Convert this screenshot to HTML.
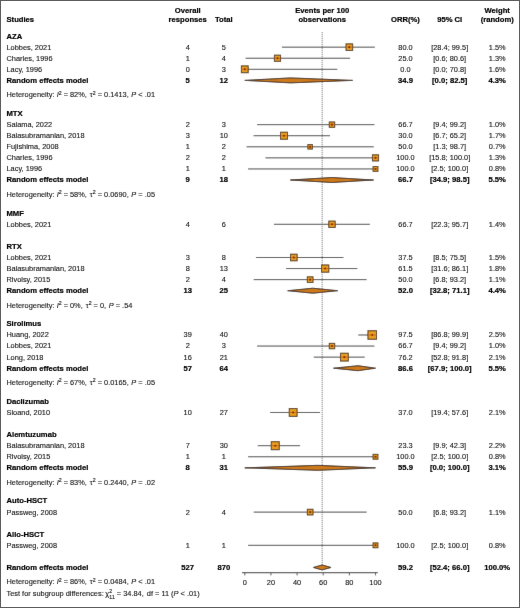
<!DOCTYPE html>
<html><head><meta charset="utf-8"><style>
html,body{margin:0;padding:0;background:#fff;overflow:hidden;width:520px;height:608px;}
svg{display:block;}
</style></head><body>
<svg width="520" height="608" viewBox="0 0 520 608" font-family="Liberation Sans, sans-serif" font-size="7.4">
<defs><filter id="bl" x="0" y="0" width="520" height="608" filterUnits="userSpaceOnUse"><feConvolveMatrix order="3" kernelMatrix="0.00524 0.06192 0.00524 0.06192 0.73137 0.06192 0.00524 0.06192 0.00524" divisor="1" edgeMode="duplicate" preserveAlpha="false"/></filter><filter id="bt" x="0" y="0" width="520" height="608" filterUnits="userSpaceOnUse"><feConvolveMatrix order="3" kernelMatrix="0.00163 0.03713 0.00163 0.03713 0.84497 0.03713 0.00163 0.03713 0.00163" divisor="1" edgeMode="duplicate" preserveAlpha="false"/></filter></defs>
<rect x="0" y="0" width="520" height="608" fill="#fff"/>
<g filter="url(#bl)">
<rect x="0" y="0" width="520" height="608" fill="#fff"/>
<line x1="322.17" y1="32.2" x2="322.17" y2="565" stroke="#3a3a3a" stroke-width="0.8" stroke-dasharray="1 1"/>
<line x1="281.92" y1="47.17" x2="374.85" y2="47.17" stroke="#454545" stroke-width="1.0"/>
<rect x="346.05" y="43.86" width="6.61" height="6.61" fill="#E99D22" stroke="#4a3000" stroke-width="1.0"/>
<line x1="346.05" y1="47.17" x2="352.67" y2="47.17" stroke="#cf6d12" stroke-width="1.0"/>
<circle cx="349.36" cy="47.17" r="1.05" fill="#7a2200"/>
<line x1="245.58" y1="58.24" x2="350.14" y2="58.24" stroke="#454545" stroke-width="1.0"/>
<rect x="274.40" y="55.16" width="6.16" height="6.16" fill="#E99D22" stroke="#4a3000" stroke-width="1.0"/>
<line x1="274.40" y1="58.24" x2="280.55" y2="58.24" stroke="#cf6d12" stroke-width="1.0"/>
<circle cx="277.48" cy="58.24" r="1.05" fill="#7a2200"/>
<line x1="244.80" y1="69.31" x2="337.34" y2="69.31" stroke="#454545" stroke-width="1.0"/>
<rect x="241.38" y="65.89" width="6.83" height="6.83" fill="#E99D22" stroke="#4a3000" stroke-width="1.0"/>
<line x1="241.38" y1="69.31" x2="248.22" y2="69.31" stroke="#cf6d12" stroke-width="1.0"/>
<circle cx="244.80" cy="69.31" r="1.05" fill="#7a2200"/>
<polygon points="244.80,80.38 290.41,77.88 352.63,80.38 290.41,82.88" fill="#CD7A1C" stroke="#2e1800" stroke-width="0.95"/>
<line x1="257.09" y1="124.66" x2="374.45" y2="124.66" stroke="#454545" stroke-width="1.0"/>
<rect x="329.28" y="121.96" width="5.40" height="5.40" fill="#E99D22" stroke="#4a3000" stroke-width="1.0"/>
<line x1="329.28" y1="124.66" x2="334.68" y2="124.66" stroke="#cf6d12" stroke-width="1.0"/>
<circle cx="331.98" cy="124.66" r="1.05" fill="#7a2200"/>
<line x1="253.56" y1="135.73" x2="330.02" y2="135.73" stroke="#454545" stroke-width="1.0"/>
<rect x="280.49" y="132.21" width="7.04" height="7.04" fill="#E99D22" stroke="#4a3000" stroke-width="1.0"/>
<line x1="280.49" y1="135.73" x2="287.53" y2="135.73" stroke="#cf6d12" stroke-width="1.0"/>
<circle cx="284.01" cy="135.73" r="1.05" fill="#7a2200"/>
<line x1="246.50" y1="146.80" x2="373.80" y2="146.80" stroke="#454545" stroke-width="1.0"/>
<rect x="307.89" y="144.54" width="4.52" height="4.52" fill="#E99D22" stroke="#4a3000" stroke-width="1.0"/>
<line x1="307.89" y1="146.80" x2="312.41" y2="146.80" stroke="#cf6d12" stroke-width="1.0"/>
<circle cx="310.15" cy="146.80" r="1.05" fill="#7a2200"/>
<line x1="265.45" y1="157.87" x2="375.50" y2="157.87" stroke="#454545" stroke-width="1.0"/>
<rect x="372.42" y="154.79" width="6.16" height="6.16" fill="#E99D22" stroke="#4a3000" stroke-width="1.0"/>
<line x1="372.42" y1="157.87" x2="378.58" y2="157.87" stroke="#cf6d12" stroke-width="1.0"/>
<circle cx="375.50" cy="157.87" r="1.05" fill="#7a2200"/>
<line x1="248.07" y1="168.94" x2="375.50" y2="168.94" stroke="#454545" stroke-width="1.0"/>
<rect x="373.09" y="166.53" width="4.83" height="4.83" fill="#E99D22" stroke="#4a3000" stroke-width="1.0"/>
<line x1="373.09" y1="168.94" x2="377.91" y2="168.94" stroke="#cf6d12" stroke-width="1.0"/>
<circle cx="375.50" cy="168.94" r="1.05" fill="#7a2200"/>
<polygon points="290.41,180.01 331.98,177.51 373.54,180.01 331.98,182.51" fill="#CD7A1C" stroke="#2e1800" stroke-width="0.95"/>
<line x1="273.95" y1="224.29" x2="369.88" y2="224.29" stroke="#454545" stroke-width="1.0"/>
<rect x="328.78" y="221.10" width="6.39" height="6.39" fill="#E99D22" stroke="#4a3000" stroke-width="1.0"/>
<line x1="328.78" y1="224.29" x2="335.17" y2="224.29" stroke="#cf6d12" stroke-width="1.0"/>
<circle cx="331.98" cy="224.29" r="1.05" fill="#7a2200"/>
<line x1="255.91" y1="257.50" x2="343.48" y2="257.50" stroke="#454545" stroke-width="1.0"/>
<rect x="290.51" y="254.19" width="6.61" height="6.61" fill="#E99D22" stroke="#4a3000" stroke-width="1.0"/>
<line x1="290.51" y1="257.50" x2="297.12" y2="257.50" stroke="#cf6d12" stroke-width="1.0"/>
<circle cx="293.81" cy="257.50" r="1.05" fill="#7a2200"/>
<line x1="286.10" y1="268.57" x2="357.33" y2="268.57" stroke="#454545" stroke-width="1.0"/>
<rect x="321.56" y="264.95" width="7.24" height="7.24" fill="#E99D22" stroke="#4a3000" stroke-width="1.0"/>
<line x1="321.56" y1="268.57" x2="328.80" y2="268.57" stroke="#cf6d12" stroke-width="1.0"/>
<circle cx="325.18" cy="268.57" r="1.05" fill="#7a2200"/>
<line x1="253.69" y1="279.64" x2="366.61" y2="279.64" stroke="#454545" stroke-width="1.0"/>
<rect x="307.32" y="276.81" width="5.66" height="5.66" fill="#E99D22" stroke="#4a3000" stroke-width="1.0"/>
<line x1="307.32" y1="279.64" x2="312.98" y2="279.64" stroke="#cf6d12" stroke-width="1.0"/>
<circle cx="310.15" cy="279.64" r="1.05" fill="#7a2200"/>
<polygon points="287.67,290.71 312.76,288.21 337.73,290.71 312.76,293.21" fill="#CD7A1C" stroke="#2e1800" stroke-width="0.95"/>
<line x1="358.25" y1="334.99" x2="375.37" y2="334.99" stroke="#454545" stroke-width="1.0"/>
<rect x="367.96" y="330.72" width="8.54" height="8.54" fill="#E99D22" stroke="#4a3000" stroke-width="1.0"/>
<line x1="367.96" y1="334.99" x2="376.50" y2="334.99" stroke="#cf6d12" stroke-width="1.0"/>
<circle cx="372.23" cy="334.99" r="1.05" fill="#7a2200"/>
<line x1="257.09" y1="346.06" x2="374.45" y2="346.06" stroke="#454545" stroke-width="1.0"/>
<rect x="329.28" y="343.36" width="5.40" height="5.40" fill="#E99D22" stroke="#4a3000" stroke-width="1.0"/>
<line x1="329.28" y1="346.06" x2="334.68" y2="346.06" stroke="#cf6d12" stroke-width="1.0"/>
<circle cx="331.98" cy="346.06" r="1.05" fill="#7a2200"/>
<line x1="313.81" y1="357.13" x2="364.78" y2="357.13" stroke="#454545" stroke-width="1.0"/>
<rect x="340.48" y="353.22" width="7.83" height="7.83" fill="#E99D22" stroke="#4a3000" stroke-width="1.0"/>
<line x1="340.48" y1="357.13" x2="348.31" y2="357.13" stroke="#cf6d12" stroke-width="1.0"/>
<circle cx="344.39" cy="357.13" r="1.05" fill="#7a2200"/>
<polygon points="333.55,368.20 357.99,365.70 375.50,368.20 357.99,370.70" fill="#CD7A1C" stroke="#2e1800" stroke-width="0.95"/>
<line x1="270.16" y1="412.48" x2="320.08" y2="412.48" stroke="#454545" stroke-width="1.0"/>
<rect x="289.25" y="408.57" width="7.83" height="7.83" fill="#E99D22" stroke="#4a3000" stroke-width="1.0"/>
<line x1="289.25" y1="412.48" x2="297.07" y2="412.48" stroke="#cf6d12" stroke-width="1.0"/>
<circle cx="293.16" cy="412.48" r="1.05" fill="#7a2200"/>
<line x1="257.74" y1="445.69" x2="300.09" y2="445.69" stroke="#454545" stroke-width="1.0"/>
<rect x="271.25" y="441.69" width="8.01" height="8.01" fill="#E99D22" stroke="#4a3000" stroke-width="1.0"/>
<line x1="271.25" y1="445.69" x2="279.26" y2="445.69" stroke="#cf6d12" stroke-width="1.0"/>
<circle cx="275.25" cy="445.69" r="1.05" fill="#7a2200"/>
<line x1="248.07" y1="456.76" x2="375.50" y2="456.76" stroke="#454545" stroke-width="1.0"/>
<rect x="373.09" y="454.35" width="4.83" height="4.83" fill="#E99D22" stroke="#4a3000" stroke-width="1.0"/>
<line x1="373.09" y1="456.76" x2="377.91" y2="456.76" stroke="#cf6d12" stroke-width="1.0"/>
<circle cx="375.50" cy="456.76" r="1.05" fill="#7a2200"/>
<polygon points="244.80,467.83 317.86,465.33 375.50,467.83 317.86,470.33" fill="#CD7A1C" stroke="#2e1800" stroke-width="0.95"/>
<line x1="253.69" y1="512.11" x2="366.61" y2="512.11" stroke="#454545" stroke-width="1.0"/>
<rect x="307.32" y="509.28" width="5.66" height="5.66" fill="#E99D22" stroke="#4a3000" stroke-width="1.0"/>
<line x1="307.32" y1="512.11" x2="312.98" y2="512.11" stroke="#cf6d12" stroke-width="1.0"/>
<circle cx="310.15" cy="512.11" r="1.05" fill="#7a2200"/>
<line x1="248.07" y1="545.32" x2="375.50" y2="545.32" stroke="#454545" stroke-width="1.0"/>
<rect x="373.09" y="542.91" width="4.83" height="4.83" fill="#E99D22" stroke="#4a3000" stroke-width="1.0"/>
<line x1="373.09" y1="545.32" x2="377.91" y2="545.32" stroke="#cf6d12" stroke-width="1.0"/>
<circle cx="375.50" cy="545.32" r="1.05" fill="#7a2200"/>
<polygon points="313.29,567.46 322.17,564.96 331.06,567.46 322.17,569.96" fill="#CD7A1C" stroke="#2e1800" stroke-width="0.95"/>
<line x1="242" y1="572.6" x2="377.8" y2="572.6" stroke="#555" stroke-width="1.3"/>
<line x1="244.80" y1="572.6" x2="244.80" y2="575.4" stroke="#555" stroke-width="1"/>
<line x1="270.94" y1="572.6" x2="270.94" y2="575.4" stroke="#555" stroke-width="1"/>
<line x1="297.08" y1="572.6" x2="297.08" y2="575.4" stroke="#555" stroke-width="1"/>
<line x1="323.22" y1="572.6" x2="323.22" y2="575.4" stroke="#555" stroke-width="1"/>
<line x1="349.36" y1="572.6" x2="349.36" y2="575.4" stroke="#555" stroke-width="1"/>
<line x1="375.50" y1="572.6" x2="375.50" y2="575.4" stroke="#555" stroke-width="1"/>
</g>
<g filter="url(#bt)">
<text transform="translate(0,21.80) scale(1,1.05)" x="6.50" y="0" text-anchor="start" font-weight="bold" font-size="7.65" fill="#000" stroke="#000" stroke-width="0.2">Studies</text>
<text transform="translate(0,13.05) scale(1,1.05)" x="187.70" y="0" text-anchor="middle" font-weight="bold" font-size="7.65" fill="#000" stroke="#000" stroke-width="0.2">Overall</text>
<text transform="translate(0,21.80) scale(1,1.05)" x="187.70" y="0" text-anchor="middle" font-weight="bold" font-size="7.65" fill="#000" stroke="#000" stroke-width="0.2">responses</text>
<text transform="translate(0,21.80) scale(1,1.05)" x="223.80" y="0" text-anchor="middle" font-weight="bold" font-size="7.65" fill="#000" stroke="#000" stroke-width="0.2">Total</text>
<text transform="translate(0,13.05) scale(1,1.05)" x="322.20" y="0" text-anchor="middle" font-weight="bold" font-size="7.65" fill="#000" stroke="#000" stroke-width="0.2">Events per 100</text>
<text transform="translate(0,21.80) scale(1,1.05)" x="322.20" y="0" text-anchor="middle" font-weight="bold" font-size="7.65" fill="#000" stroke="#000" stroke-width="0.2">observations</text>
<text transform="translate(0,21.80) scale(1,1.05)" x="405.50" y="0" text-anchor="middle" font-weight="bold" font-size="7.65" fill="#000" stroke="#000" stroke-width="0.2">ORR(%)</text>
<text transform="translate(0,21.80) scale(1,1.05)" x="449.70" y="0" text-anchor="middle" font-weight="bold" font-size="7.65" fill="#000" stroke="#000" stroke-width="0.2">95% CI</text>
<text transform="translate(0,13.05) scale(1,1.05)" x="497.20" y="0" text-anchor="middle" font-weight="bold" font-size="7.65" fill="#000" stroke="#000" stroke-width="0.2">Weight</text>
<text transform="translate(0,21.80) scale(1,1.05)" x="497.20" y="0" text-anchor="middle" font-weight="bold" font-size="7.65" fill="#000" stroke="#000" stroke-width="0.2">(random)</text>
<text transform="translate(0,38.50) scale(1,1.05)" x="6.50" y="0" text-anchor="start" font-weight="bold" font-size="7.65" fill="#000" stroke="#000" stroke-width="0.2">AZA</text>
<text transform="translate(0,49.57) scale(1,1.05)" x="6.50" y="0" text-anchor="start" fill="#111" stroke="#111" stroke-width="0.1">Lobbes, 2021</text>
<text transform="translate(0,49.57) scale(1,1.05)" x="187.70" y="0" text-anchor="middle" fill="#111" stroke="#111" stroke-width="0.1">4</text>
<text transform="translate(0,49.57) scale(1,1.05)" x="223.80" y="0" text-anchor="middle" fill="#111" stroke="#111" stroke-width="0.1">5</text>
<text transform="translate(0,49.57) scale(1,1.05)" x="405.50" y="0" text-anchor="middle" fill="#111" stroke="#111" stroke-width="0.1">80.0</text>
<text transform="translate(0,49.57) scale(1,1.05)" x="449.70" y="0" text-anchor="middle" fill="#111" stroke="#111" stroke-width="0.1">[28.4; 99.5]</text>
<text transform="translate(0,49.57) scale(1,1.05)" x="497.20" y="0" text-anchor="middle" fill="#111" stroke="#111" stroke-width="0.1">1.5%</text>
<text transform="translate(0,60.64) scale(1,1.05)" x="6.50" y="0" text-anchor="start" fill="#111" stroke="#111" stroke-width="0.1">Charles, 1996</text>
<text transform="translate(0,60.64) scale(1,1.05)" x="187.70" y="0" text-anchor="middle" fill="#111" stroke="#111" stroke-width="0.1">1</text>
<text transform="translate(0,60.64) scale(1,1.05)" x="223.80" y="0" text-anchor="middle" fill="#111" stroke="#111" stroke-width="0.1">4</text>
<text transform="translate(0,60.64) scale(1,1.05)" x="405.50" y="0" text-anchor="middle" fill="#111" stroke="#111" stroke-width="0.1">25.0</text>
<text transform="translate(0,60.64) scale(1,1.05)" x="449.70" y="0" text-anchor="middle" fill="#111" stroke="#111" stroke-width="0.1">[0.6; 80.6]</text>
<text transform="translate(0,60.64) scale(1,1.05)" x="497.20" y="0" text-anchor="middle" fill="#111" stroke="#111" stroke-width="0.1">1.3%</text>
<text transform="translate(0,71.71) scale(1,1.05)" x="6.50" y="0" text-anchor="start" fill="#111" stroke="#111" stroke-width="0.1">Lacy, 1996</text>
<text transform="translate(0,71.71) scale(1,1.05)" x="187.70" y="0" text-anchor="middle" fill="#111" stroke="#111" stroke-width="0.1">0</text>
<text transform="translate(0,71.71) scale(1,1.05)" x="223.80" y="0" text-anchor="middle" fill="#111" stroke="#111" stroke-width="0.1">3</text>
<text transform="translate(0,71.71) scale(1,1.05)" x="405.50" y="0" text-anchor="middle" fill="#111" stroke="#111" stroke-width="0.1">0.0</text>
<text transform="translate(0,71.71) scale(1,1.05)" x="449.70" y="0" text-anchor="middle" fill="#111" stroke="#111" stroke-width="0.1">[0.0; 70.8]</text>
<text transform="translate(0,71.71) scale(1,1.05)" x="497.20" y="0" text-anchor="middle" fill="#111" stroke="#111" stroke-width="0.1">1.6%</text>
<text transform="translate(0,82.78) scale(1,1.05)" x="6.50" y="0" text-anchor="start" font-weight="bold" font-size="7.65" fill="#000" stroke="#000" stroke-width="0.2">Random effects model</text>
<text transform="translate(0,82.78) scale(1,1.05)" x="187.70" y="0" text-anchor="middle" font-weight="bold" font-size="7.65" fill="#000" stroke="#000" stroke-width="0.2">5</text>
<text transform="translate(0,82.78) scale(1,1.05)" x="223.80" y="0" text-anchor="middle" font-weight="bold" font-size="7.65" fill="#000" stroke="#000" stroke-width="0.2">12</text>
<text transform="translate(0,82.78) scale(1,1.05)" x="405.50" y="0" text-anchor="middle" font-weight="bold" font-size="7.65" fill="#000" stroke="#000" stroke-width="0.2">34.9</text>
<text transform="translate(0,82.78) scale(1,1.05)" x="449.70" y="0" text-anchor="middle" font-weight="bold" font-size="7.65" fill="#000" stroke="#000" stroke-width="0.2">[0.0; 82.5]</text>
<text transform="translate(0,82.78) scale(1,1.05)" x="497.20" y="0" text-anchor="middle" font-weight="bold" font-size="7.65" fill="#000" stroke="#000" stroke-width="0.2">4.3%</text>
<text transform="translate(0,97.38) scale(1,1.05)" x="6.50" y="0" text-anchor="start" fill="#111" stroke="#111" stroke-width="0.1">Heterogeneity: <tspan font-style="italic">I</tspan><tspan dy="-2.6" font-size="5.2">2</tspan><tspan dy="2.6"> = 82%, </tspan><tspan dx="0.9">τ</tspan><tspan dy="-2.6" font-size="5.2">2</tspan><tspan dy="2.6"> = 0.1413, </tspan><tspan font-style="italic" dx="0.6">P</tspan> &lt; .01</text>
<text transform="translate(0,115.99) scale(1,1.05)" x="6.50" y="0" text-anchor="start" font-weight="bold" font-size="7.65" fill="#000" stroke="#000" stroke-width="0.2">MTX</text>
<text transform="translate(0,127.06) scale(1,1.05)" x="6.50" y="0" text-anchor="start" fill="#111" stroke="#111" stroke-width="0.1">Salama, 2022</text>
<text transform="translate(0,127.06) scale(1,1.05)" x="187.70" y="0" text-anchor="middle" fill="#111" stroke="#111" stroke-width="0.1">2</text>
<text transform="translate(0,127.06) scale(1,1.05)" x="223.80" y="0" text-anchor="middle" fill="#111" stroke="#111" stroke-width="0.1">3</text>
<text transform="translate(0,127.06) scale(1,1.05)" x="405.50" y="0" text-anchor="middle" fill="#111" stroke="#111" stroke-width="0.1">66.7</text>
<text transform="translate(0,127.06) scale(1,1.05)" x="449.70" y="0" text-anchor="middle" fill="#111" stroke="#111" stroke-width="0.1">[9.4; 99.2]</text>
<text transform="translate(0,127.06) scale(1,1.05)" x="497.20" y="0" text-anchor="middle" fill="#111" stroke="#111" stroke-width="0.1">1.0%</text>
<text transform="translate(0,138.13) scale(1,1.05)" x="6.50" y="0" text-anchor="start" fill="#111" stroke="#111" stroke-width="0.1">Balasubramanian, 2018</text>
<text transform="translate(0,138.13) scale(1,1.05)" x="187.70" y="0" text-anchor="middle" fill="#111" stroke="#111" stroke-width="0.1">3</text>
<text transform="translate(0,138.13) scale(1,1.05)" x="223.80" y="0" text-anchor="middle" fill="#111" stroke="#111" stroke-width="0.1">10</text>
<text transform="translate(0,138.13) scale(1,1.05)" x="405.50" y="0" text-anchor="middle" fill="#111" stroke="#111" stroke-width="0.1">30.0</text>
<text transform="translate(0,138.13) scale(1,1.05)" x="449.70" y="0" text-anchor="middle" fill="#111" stroke="#111" stroke-width="0.1">[6.7; 65.2]</text>
<text transform="translate(0,138.13) scale(1,1.05)" x="497.20" y="0" text-anchor="middle" fill="#111" stroke="#111" stroke-width="0.1">1.7%</text>
<text transform="translate(0,149.20) scale(1,1.05)" x="6.50" y="0" text-anchor="start" fill="#111" stroke="#111" stroke-width="0.1">Fujishima, 2008</text>
<text transform="translate(0,149.20) scale(1,1.05)" x="187.70" y="0" text-anchor="middle" fill="#111" stroke="#111" stroke-width="0.1">1</text>
<text transform="translate(0,149.20) scale(1,1.05)" x="223.80" y="0" text-anchor="middle" fill="#111" stroke="#111" stroke-width="0.1">2</text>
<text transform="translate(0,149.20) scale(1,1.05)" x="405.50" y="0" text-anchor="middle" fill="#111" stroke="#111" stroke-width="0.1">50.0</text>
<text transform="translate(0,149.20) scale(1,1.05)" x="449.70" y="0" text-anchor="middle" fill="#111" stroke="#111" stroke-width="0.1">[1.3; 98.7]</text>
<text transform="translate(0,149.20) scale(1,1.05)" x="497.20" y="0" text-anchor="middle" fill="#111" stroke="#111" stroke-width="0.1">0.7%</text>
<text transform="translate(0,160.27) scale(1,1.05)" x="6.50" y="0" text-anchor="start" fill="#111" stroke="#111" stroke-width="0.1">Charles, 1996</text>
<text transform="translate(0,160.27) scale(1,1.05)" x="187.70" y="0" text-anchor="middle" fill="#111" stroke="#111" stroke-width="0.1">2</text>
<text transform="translate(0,160.27) scale(1,1.05)" x="223.80" y="0" text-anchor="middle" fill="#111" stroke="#111" stroke-width="0.1">2</text>
<text transform="translate(0,160.27) scale(1,1.05)" x="405.50" y="0" text-anchor="middle" fill="#111" stroke="#111" stroke-width="0.1">100.0</text>
<text transform="translate(0,160.27) scale(1,1.05)" x="449.70" y="0" text-anchor="middle" fill="#111" stroke="#111" stroke-width="0.1">[15.8; 100.0]</text>
<text transform="translate(0,160.27) scale(1,1.05)" x="497.20" y="0" text-anchor="middle" fill="#111" stroke="#111" stroke-width="0.1">1.3%</text>
<text transform="translate(0,171.34) scale(1,1.05)" x="6.50" y="0" text-anchor="start" fill="#111" stroke="#111" stroke-width="0.1">Lacy, 1996</text>
<text transform="translate(0,171.34) scale(1,1.05)" x="187.70" y="0" text-anchor="middle" fill="#111" stroke="#111" stroke-width="0.1">1</text>
<text transform="translate(0,171.34) scale(1,1.05)" x="223.80" y="0" text-anchor="middle" fill="#111" stroke="#111" stroke-width="0.1">1</text>
<text transform="translate(0,171.34) scale(1,1.05)" x="405.50" y="0" text-anchor="middle" fill="#111" stroke="#111" stroke-width="0.1">100.0</text>
<text transform="translate(0,171.34) scale(1,1.05)" x="449.70" y="0" text-anchor="middle" fill="#111" stroke="#111" stroke-width="0.1">[2.5; 100.0]</text>
<text transform="translate(0,171.34) scale(1,1.05)" x="497.20" y="0" text-anchor="middle" fill="#111" stroke="#111" stroke-width="0.1">0.8%</text>
<text transform="translate(0,182.41) scale(1,1.05)" x="6.50" y="0" text-anchor="start" font-weight="bold" font-size="7.65" fill="#000" stroke="#000" stroke-width="0.2">Random effects model</text>
<text transform="translate(0,182.41) scale(1,1.05)" x="187.70" y="0" text-anchor="middle" font-weight="bold" font-size="7.65" fill="#000" stroke="#000" stroke-width="0.2">9</text>
<text transform="translate(0,182.41) scale(1,1.05)" x="223.80" y="0" text-anchor="middle" font-weight="bold" font-size="7.65" fill="#000" stroke="#000" stroke-width="0.2">18</text>
<text transform="translate(0,182.41) scale(1,1.05)" x="405.50" y="0" text-anchor="middle" font-weight="bold" font-size="7.65" fill="#000" stroke="#000" stroke-width="0.2">66.7</text>
<text transform="translate(0,182.41) scale(1,1.05)" x="449.70" y="0" text-anchor="middle" font-weight="bold" font-size="7.65" fill="#000" stroke="#000" stroke-width="0.2">[34.9; 98.5]</text>
<text transform="translate(0,182.41) scale(1,1.05)" x="497.20" y="0" text-anchor="middle" font-weight="bold" font-size="7.65" fill="#000" stroke="#000" stroke-width="0.2">5.5%</text>
<text transform="translate(0,197.01) scale(1,1.05)" x="6.50" y="0" text-anchor="start" fill="#111" stroke="#111" stroke-width="0.1">Heterogeneity: <tspan font-style="italic">I</tspan><tspan dy="-2.6" font-size="5.2">2</tspan><tspan dy="2.6"> = 58%, </tspan><tspan dx="0.9">τ</tspan><tspan dy="-2.6" font-size="5.2">2</tspan><tspan dy="2.6"> = 0.0690, </tspan><tspan font-style="italic" dx="0.6">P</tspan> = .05</text>
<text transform="translate(0,215.62) scale(1,1.05)" x="6.50" y="0" text-anchor="start" font-weight="bold" font-size="7.65" fill="#000" stroke="#000" stroke-width="0.2">MMF</text>
<text transform="translate(0,226.69) scale(1,1.05)" x="6.50" y="0" text-anchor="start" fill="#111" stroke="#111" stroke-width="0.1">Lobbes, 2021</text>
<text transform="translate(0,226.69) scale(1,1.05)" x="187.70" y="0" text-anchor="middle" fill="#111" stroke="#111" stroke-width="0.1">4</text>
<text transform="translate(0,226.69) scale(1,1.05)" x="223.80" y="0" text-anchor="middle" fill="#111" stroke="#111" stroke-width="0.1">6</text>
<text transform="translate(0,226.69) scale(1,1.05)" x="405.50" y="0" text-anchor="middle" fill="#111" stroke="#111" stroke-width="0.1">66.7</text>
<text transform="translate(0,226.69) scale(1,1.05)" x="449.70" y="0" text-anchor="middle" fill="#111" stroke="#111" stroke-width="0.1">[22.3; 95.7]</text>
<text transform="translate(0,226.69) scale(1,1.05)" x="497.20" y="0" text-anchor="middle" fill="#111" stroke="#111" stroke-width="0.1">1.4%</text>
<text transform="translate(0,248.83) scale(1,1.05)" x="6.50" y="0" text-anchor="start" font-weight="bold" font-size="7.65" fill="#000" stroke="#000" stroke-width="0.2">RTX</text>
<text transform="translate(0,259.90) scale(1,1.05)" x="6.50" y="0" text-anchor="start" fill="#111" stroke="#111" stroke-width="0.1">Lobbes, 2021</text>
<text transform="translate(0,259.90) scale(1,1.05)" x="187.70" y="0" text-anchor="middle" fill="#111" stroke="#111" stroke-width="0.1">3</text>
<text transform="translate(0,259.90) scale(1,1.05)" x="223.80" y="0" text-anchor="middle" fill="#111" stroke="#111" stroke-width="0.1">8</text>
<text transform="translate(0,259.90) scale(1,1.05)" x="405.50" y="0" text-anchor="middle" fill="#111" stroke="#111" stroke-width="0.1">37.5</text>
<text transform="translate(0,259.90) scale(1,1.05)" x="449.70" y="0" text-anchor="middle" fill="#111" stroke="#111" stroke-width="0.1">[8.5; 75.5]</text>
<text transform="translate(0,259.90) scale(1,1.05)" x="497.20" y="0" text-anchor="middle" fill="#111" stroke="#111" stroke-width="0.1">1.5%</text>
<text transform="translate(0,270.97) scale(1,1.05)" x="6.50" y="0" text-anchor="start" fill="#111" stroke="#111" stroke-width="0.1">Balasubramanian, 2018</text>
<text transform="translate(0,270.97) scale(1,1.05)" x="187.70" y="0" text-anchor="middle" fill="#111" stroke="#111" stroke-width="0.1">8</text>
<text transform="translate(0,270.97) scale(1,1.05)" x="223.80" y="0" text-anchor="middle" fill="#111" stroke="#111" stroke-width="0.1">13</text>
<text transform="translate(0,270.97) scale(1,1.05)" x="405.50" y="0" text-anchor="middle" fill="#111" stroke="#111" stroke-width="0.1">61.5</text>
<text transform="translate(0,270.97) scale(1,1.05)" x="449.70" y="0" text-anchor="middle" fill="#111" stroke="#111" stroke-width="0.1">[31.6; 86.1]</text>
<text transform="translate(0,270.97) scale(1,1.05)" x="497.20" y="0" text-anchor="middle" fill="#111" stroke="#111" stroke-width="0.1">1.8%</text>
<text transform="translate(0,282.04) scale(1,1.05)" x="6.50" y="0" text-anchor="start" fill="#111" stroke="#111" stroke-width="0.1">Rivoisy, 2015</text>
<text transform="translate(0,282.04) scale(1,1.05)" x="187.70" y="0" text-anchor="middle" fill="#111" stroke="#111" stroke-width="0.1">2</text>
<text transform="translate(0,282.04) scale(1,1.05)" x="223.80" y="0" text-anchor="middle" fill="#111" stroke="#111" stroke-width="0.1">4</text>
<text transform="translate(0,282.04) scale(1,1.05)" x="405.50" y="0" text-anchor="middle" fill="#111" stroke="#111" stroke-width="0.1">50.0</text>
<text transform="translate(0,282.04) scale(1,1.05)" x="449.70" y="0" text-anchor="middle" fill="#111" stroke="#111" stroke-width="0.1">[6.8; 93.2]</text>
<text transform="translate(0,282.04) scale(1,1.05)" x="497.20" y="0" text-anchor="middle" fill="#111" stroke="#111" stroke-width="0.1">1.1%</text>
<text transform="translate(0,293.11) scale(1,1.05)" x="6.50" y="0" text-anchor="start" font-weight="bold" font-size="7.65" fill="#000" stroke="#000" stroke-width="0.2">Random effects model</text>
<text transform="translate(0,293.11) scale(1,1.05)" x="187.70" y="0" text-anchor="middle" font-weight="bold" font-size="7.65" fill="#000" stroke="#000" stroke-width="0.2">13</text>
<text transform="translate(0,293.11) scale(1,1.05)" x="223.80" y="0" text-anchor="middle" font-weight="bold" font-size="7.65" fill="#000" stroke="#000" stroke-width="0.2">25</text>
<text transform="translate(0,293.11) scale(1,1.05)" x="405.50" y="0" text-anchor="middle" font-weight="bold" font-size="7.65" fill="#000" stroke="#000" stroke-width="0.2">52.0</text>
<text transform="translate(0,293.11) scale(1,1.05)" x="449.70" y="0" text-anchor="middle" font-weight="bold" font-size="7.65" fill="#000" stroke="#000" stroke-width="0.2">[32.8; 71.1]</text>
<text transform="translate(0,293.11) scale(1,1.05)" x="497.20" y="0" text-anchor="middle" font-weight="bold" font-size="7.65" fill="#000" stroke="#000" stroke-width="0.2">4.4%</text>
<text transform="translate(0,307.71) scale(1,1.05)" x="6.50" y="0" text-anchor="start" fill="#111" stroke="#111" stroke-width="0.1">Heterogeneity: <tspan font-style="italic">I</tspan><tspan dy="-2.6" font-size="5.2">2</tspan><tspan dy="2.6"> = 0%, </tspan><tspan dx="0.9">τ</tspan><tspan dy="-2.6" font-size="5.2">2</tspan><tspan dy="2.6"> = 0, </tspan><tspan font-style="italic" dx="0.6">P</tspan> = .54</text>
<text transform="translate(0,326.32) scale(1,1.05)" x="6.50" y="0" text-anchor="start" font-weight="bold" font-size="7.65" fill="#000" stroke="#000" stroke-width="0.2">Sirolimus</text>
<text transform="translate(0,337.39) scale(1,1.05)" x="6.50" y="0" text-anchor="start" fill="#111" stroke="#111" stroke-width="0.1">Huang, 2022</text>
<text transform="translate(0,337.39) scale(1,1.05)" x="187.70" y="0" text-anchor="middle" fill="#111" stroke="#111" stroke-width="0.1">39</text>
<text transform="translate(0,337.39) scale(1,1.05)" x="223.80" y="0" text-anchor="middle" fill="#111" stroke="#111" stroke-width="0.1">40</text>
<text transform="translate(0,337.39) scale(1,1.05)" x="405.50" y="0" text-anchor="middle" fill="#111" stroke="#111" stroke-width="0.1">97.5</text>
<text transform="translate(0,337.39) scale(1,1.05)" x="449.70" y="0" text-anchor="middle" fill="#111" stroke="#111" stroke-width="0.1">[86.8; 99.9]</text>
<text transform="translate(0,337.39) scale(1,1.05)" x="497.20" y="0" text-anchor="middle" fill="#111" stroke="#111" stroke-width="0.1">2.5%</text>
<text transform="translate(0,348.46) scale(1,1.05)" x="6.50" y="0" text-anchor="start" fill="#111" stroke="#111" stroke-width="0.1">Lobbes, 2021</text>
<text transform="translate(0,348.46) scale(1,1.05)" x="187.70" y="0" text-anchor="middle" fill="#111" stroke="#111" stroke-width="0.1">2</text>
<text transform="translate(0,348.46) scale(1,1.05)" x="223.80" y="0" text-anchor="middle" fill="#111" stroke="#111" stroke-width="0.1">3</text>
<text transform="translate(0,348.46) scale(1,1.05)" x="405.50" y="0" text-anchor="middle" fill="#111" stroke="#111" stroke-width="0.1">66.7</text>
<text transform="translate(0,348.46) scale(1,1.05)" x="449.70" y="0" text-anchor="middle" fill="#111" stroke="#111" stroke-width="0.1">[9.4; 99.2]</text>
<text transform="translate(0,348.46) scale(1,1.05)" x="497.20" y="0" text-anchor="middle" fill="#111" stroke="#111" stroke-width="0.1">1.0%</text>
<text transform="translate(0,359.53) scale(1,1.05)" x="6.50" y="0" text-anchor="start" fill="#111" stroke="#111" stroke-width="0.1">Long, 2018</text>
<text transform="translate(0,359.53) scale(1,1.05)" x="187.70" y="0" text-anchor="middle" fill="#111" stroke="#111" stroke-width="0.1">16</text>
<text transform="translate(0,359.53) scale(1,1.05)" x="223.80" y="0" text-anchor="middle" fill="#111" stroke="#111" stroke-width="0.1">21</text>
<text transform="translate(0,359.53) scale(1,1.05)" x="405.50" y="0" text-anchor="middle" fill="#111" stroke="#111" stroke-width="0.1">76.2</text>
<text transform="translate(0,359.53) scale(1,1.05)" x="449.70" y="0" text-anchor="middle" fill="#111" stroke="#111" stroke-width="0.1">[52.8; 91.8]</text>
<text transform="translate(0,359.53) scale(1,1.05)" x="497.20" y="0" text-anchor="middle" fill="#111" stroke="#111" stroke-width="0.1">2.1%</text>
<text transform="translate(0,370.60) scale(1,1.05)" x="6.50" y="0" text-anchor="start" font-weight="bold" font-size="7.65" fill="#000" stroke="#000" stroke-width="0.2">Random effects model</text>
<text transform="translate(0,370.60) scale(1,1.05)" x="187.70" y="0" text-anchor="middle" font-weight="bold" font-size="7.65" fill="#000" stroke="#000" stroke-width="0.2">57</text>
<text transform="translate(0,370.60) scale(1,1.05)" x="223.80" y="0" text-anchor="middle" font-weight="bold" font-size="7.65" fill="#000" stroke="#000" stroke-width="0.2">64</text>
<text transform="translate(0,370.60) scale(1,1.05)" x="405.50" y="0" text-anchor="middle" font-weight="bold" font-size="7.65" fill="#000" stroke="#000" stroke-width="0.2">86.6</text>
<text transform="translate(0,370.60) scale(1,1.05)" x="449.70" y="0" text-anchor="middle" font-weight="bold" font-size="7.65" fill="#000" stroke="#000" stroke-width="0.2">[67.9; 100.0]</text>
<text transform="translate(0,370.60) scale(1,1.05)" x="497.20" y="0" text-anchor="middle" font-weight="bold" font-size="7.65" fill="#000" stroke="#000" stroke-width="0.2">5.5%</text>
<text transform="translate(0,385.20) scale(1,1.05)" x="6.50" y="0" text-anchor="start" fill="#111" stroke="#111" stroke-width="0.1">Heterogeneity: <tspan font-style="italic">I</tspan><tspan dy="-2.6" font-size="5.2">2</tspan><tspan dy="2.6"> = 67%, </tspan><tspan dx="0.9">τ</tspan><tspan dy="-2.6" font-size="5.2">2</tspan><tspan dy="2.6"> = 0.0165, </tspan><tspan font-style="italic" dx="0.6">P</tspan> = .05</text>
<text transform="translate(0,403.81) scale(1,1.05)" x="6.50" y="0" text-anchor="start" font-weight="bold" font-size="7.65" fill="#000" stroke="#000" stroke-width="0.2">Daclizumab</text>
<text transform="translate(0,414.88) scale(1,1.05)" x="6.50" y="0" text-anchor="start" fill="#111" stroke="#111" stroke-width="0.1">Sloand, 2010</text>
<text transform="translate(0,414.88) scale(1,1.05)" x="187.70" y="0" text-anchor="middle" fill="#111" stroke="#111" stroke-width="0.1">10</text>
<text transform="translate(0,414.88) scale(1,1.05)" x="223.80" y="0" text-anchor="middle" fill="#111" stroke="#111" stroke-width="0.1">27</text>
<text transform="translate(0,414.88) scale(1,1.05)" x="405.50" y="0" text-anchor="middle" fill="#111" stroke="#111" stroke-width="0.1">37.0</text>
<text transform="translate(0,414.88) scale(1,1.05)" x="449.70" y="0" text-anchor="middle" fill="#111" stroke="#111" stroke-width="0.1">[19.4; 57.6]</text>
<text transform="translate(0,414.88) scale(1,1.05)" x="497.20" y="0" text-anchor="middle" fill="#111" stroke="#111" stroke-width="0.1">2.1%</text>
<text transform="translate(0,437.02) scale(1,1.05)" x="6.50" y="0" text-anchor="start" font-weight="bold" font-size="7.65" fill="#000" stroke="#000" stroke-width="0.2">Alemtuzumab</text>
<text transform="translate(0,448.09) scale(1,1.05)" x="6.50" y="0" text-anchor="start" fill="#111" stroke="#111" stroke-width="0.1">Balasubramanian, 2018</text>
<text transform="translate(0,448.09) scale(1,1.05)" x="187.70" y="0" text-anchor="middle" fill="#111" stroke="#111" stroke-width="0.1">7</text>
<text transform="translate(0,448.09) scale(1,1.05)" x="223.80" y="0" text-anchor="middle" fill="#111" stroke="#111" stroke-width="0.1">30</text>
<text transform="translate(0,448.09) scale(1,1.05)" x="405.50" y="0" text-anchor="middle" fill="#111" stroke="#111" stroke-width="0.1">23.3</text>
<text transform="translate(0,448.09) scale(1,1.05)" x="449.70" y="0" text-anchor="middle" fill="#111" stroke="#111" stroke-width="0.1">[9.9; 42.3]</text>
<text transform="translate(0,448.09) scale(1,1.05)" x="497.20" y="0" text-anchor="middle" fill="#111" stroke="#111" stroke-width="0.1">2.2%</text>
<text transform="translate(0,459.16) scale(1,1.05)" x="6.50" y="0" text-anchor="start" fill="#111" stroke="#111" stroke-width="0.1">Rivoisy, 2015</text>
<text transform="translate(0,459.16) scale(1,1.05)" x="187.70" y="0" text-anchor="middle" fill="#111" stroke="#111" stroke-width="0.1">1</text>
<text transform="translate(0,459.16) scale(1,1.05)" x="223.80" y="0" text-anchor="middle" fill="#111" stroke="#111" stroke-width="0.1">1</text>
<text transform="translate(0,459.16) scale(1,1.05)" x="405.50" y="0" text-anchor="middle" fill="#111" stroke="#111" stroke-width="0.1">100.0</text>
<text transform="translate(0,459.16) scale(1,1.05)" x="449.70" y="0" text-anchor="middle" fill="#111" stroke="#111" stroke-width="0.1">[2.5; 100.0]</text>
<text transform="translate(0,459.16) scale(1,1.05)" x="497.20" y="0" text-anchor="middle" fill="#111" stroke="#111" stroke-width="0.1">0.8%</text>
<text transform="translate(0,470.23) scale(1,1.05)" x="6.50" y="0" text-anchor="start" font-weight="bold" font-size="7.65" fill="#000" stroke="#000" stroke-width="0.2">Random effects model</text>
<text transform="translate(0,470.23) scale(1,1.05)" x="187.70" y="0" text-anchor="middle" font-weight="bold" font-size="7.65" fill="#000" stroke="#000" stroke-width="0.2">8</text>
<text transform="translate(0,470.23) scale(1,1.05)" x="223.80" y="0" text-anchor="middle" font-weight="bold" font-size="7.65" fill="#000" stroke="#000" stroke-width="0.2">31</text>
<text transform="translate(0,470.23) scale(1,1.05)" x="405.50" y="0" text-anchor="middle" font-weight="bold" font-size="7.65" fill="#000" stroke="#000" stroke-width="0.2">55.9</text>
<text transform="translate(0,470.23) scale(1,1.05)" x="449.70" y="0" text-anchor="middle" font-weight="bold" font-size="7.65" fill="#000" stroke="#000" stroke-width="0.2">[0.0; 100.0]</text>
<text transform="translate(0,470.23) scale(1,1.05)" x="497.20" y="0" text-anchor="middle" font-weight="bold" font-size="7.65" fill="#000" stroke="#000" stroke-width="0.2">3.1%</text>
<text transform="translate(0,484.83) scale(1,1.05)" x="6.50" y="0" text-anchor="start" fill="#111" stroke="#111" stroke-width="0.1">Heterogeneity: <tspan font-style="italic">I</tspan><tspan dy="-2.6" font-size="5.2">2</tspan><tspan dy="2.6"> = 83%, </tspan><tspan dx="0.9">τ</tspan><tspan dy="-2.6" font-size="5.2">2</tspan><tspan dy="2.6"> = 0.2440, </tspan><tspan font-style="italic" dx="0.6">P</tspan> = .02</text>
<text transform="translate(0,503.44) scale(1,1.05)" x="6.50" y="0" text-anchor="start" font-weight="bold" font-size="7.65" fill="#000" stroke="#000" stroke-width="0.2">Auto-HSCT</text>
<text transform="translate(0,514.51) scale(1,1.05)" x="6.50" y="0" text-anchor="start" fill="#111" stroke="#111" stroke-width="0.1">Passweg, 2008</text>
<text transform="translate(0,514.51) scale(1,1.05)" x="187.70" y="0" text-anchor="middle" fill="#111" stroke="#111" stroke-width="0.1">2</text>
<text transform="translate(0,514.51) scale(1,1.05)" x="223.80" y="0" text-anchor="middle" fill="#111" stroke="#111" stroke-width="0.1">4</text>
<text transform="translate(0,514.51) scale(1,1.05)" x="405.50" y="0" text-anchor="middle" fill="#111" stroke="#111" stroke-width="0.1">50.0</text>
<text transform="translate(0,514.51) scale(1,1.05)" x="449.70" y="0" text-anchor="middle" fill="#111" stroke="#111" stroke-width="0.1">[6.8; 93.2]</text>
<text transform="translate(0,514.51) scale(1,1.05)" x="497.20" y="0" text-anchor="middle" fill="#111" stroke="#111" stroke-width="0.1">1.1%</text>
<text transform="translate(0,536.65) scale(1,1.05)" x="6.50" y="0" text-anchor="start" font-weight="bold" font-size="7.65" fill="#000" stroke="#000" stroke-width="0.2">Allo-HSCT</text>
<text transform="translate(0,547.72) scale(1,1.05)" x="6.50" y="0" text-anchor="start" fill="#111" stroke="#111" stroke-width="0.1">Passweg, 2008</text>
<text transform="translate(0,547.72) scale(1,1.05)" x="187.70" y="0" text-anchor="middle" fill="#111" stroke="#111" stroke-width="0.1">1</text>
<text transform="translate(0,547.72) scale(1,1.05)" x="223.80" y="0" text-anchor="middle" fill="#111" stroke="#111" stroke-width="0.1">1</text>
<text transform="translate(0,547.72) scale(1,1.05)" x="405.50" y="0" text-anchor="middle" fill="#111" stroke="#111" stroke-width="0.1">100.0</text>
<text transform="translate(0,547.72) scale(1,1.05)" x="449.70" y="0" text-anchor="middle" fill="#111" stroke="#111" stroke-width="0.1">[2.5; 100.0]</text>
<text transform="translate(0,547.72) scale(1,1.05)" x="497.20" y="0" text-anchor="middle" fill="#111" stroke="#111" stroke-width="0.1">0.8%</text>
<text transform="translate(0,569.86) scale(1,1.05)" x="6.50" y="0" text-anchor="start" font-weight="bold" font-size="7.65" fill="#000" stroke="#000" stroke-width="0.2">Random effects model</text>
<text transform="translate(0,569.86) scale(1,1.05)" x="187.70" y="0" text-anchor="middle" font-weight="bold" font-size="7.65" fill="#000" stroke="#000" stroke-width="0.2">527</text>
<text transform="translate(0,569.86) scale(1,1.05)" x="223.80" y="0" text-anchor="middle" font-weight="bold" font-size="7.65" fill="#000" stroke="#000" stroke-width="0.2">870</text>
<text transform="translate(0,569.86) scale(1,1.05)" x="405.50" y="0" text-anchor="middle" font-weight="bold" font-size="7.65" fill="#000" stroke="#000" stroke-width="0.2">59.2</text>
<text transform="translate(0,569.86) scale(1,1.05)" x="449.70" y="0" text-anchor="middle" font-weight="bold" font-size="7.65" fill="#000" stroke="#000" stroke-width="0.2">[52.4; 66.0]</text>
<text transform="translate(0,569.86) scale(1,1.05)" x="497.20" y="0" text-anchor="middle" font-weight="bold" font-size="7.65" fill="#000" stroke="#000" stroke-width="0.2">100.0%</text>
<text transform="translate(0,584.46) scale(1,1.05)" x="6.50" y="0" text-anchor="start" fill="#111" stroke="#111" stroke-width="0.1">Heterogeneity: <tspan font-style="italic">I</tspan><tspan dy="-2.6" font-size="5.2">2</tspan><tspan dy="2.6"> = 86%, </tspan><tspan dx="0.9">τ</tspan><tspan dy="-2.6" font-size="5.2">2</tspan><tspan dy="2.6"> = 0.0484, </tspan><tspan font-style="italic" dx="0.6">P</tspan> &lt; .01</text>
<text transform="translate(0,596.30) scale(1,1.05)" x="6.50" y="0" text-anchor="start" fill="#111" stroke="#111" stroke-width="0.1">Test for subgroup differences: <tspan dx="-0.6">χ</tspan><tspan dx="0.3" dy="-3.3" font-size="5.2">2</tspan><tspan dx="-2.9" dy="6.0" font-size="5.2">11</tspan><tspan dy="-2.7"> = 34.84, </tspan><tspan dx="1">df = 11 (</tspan><tspan font-style="italic">P</tspan> &lt; .01)</text>
<text transform="translate(0,585.30) scale(1,1.05)" x="244.80" y="0" text-anchor="middle" fill="#111" stroke="#111" stroke-width="0.1">0</text>
<text transform="translate(0,585.30) scale(1,1.05)" x="270.94" y="0" text-anchor="middle" fill="#111" stroke="#111" stroke-width="0.1">20</text>
<text transform="translate(0,585.30) scale(1,1.05)" x="297.08" y="0" text-anchor="middle" fill="#111" stroke="#111" stroke-width="0.1">40</text>
<text transform="translate(0,585.30) scale(1,1.05)" x="323.22" y="0" text-anchor="middle" fill="#111" stroke="#111" stroke-width="0.1">60</text>
<text transform="translate(0,585.30) scale(1,1.05)" x="349.36" y="0" text-anchor="middle" fill="#111" stroke="#111" stroke-width="0.1">80</text>
<text transform="translate(0,585.30) scale(1,1.05)" x="375.50" y="0" text-anchor="middle" fill="#111" stroke="#111" stroke-width="0.1">100</text>
</g>
<rect x="0.5" y="0.5" width="519" height="607" fill="none" stroke="#5c5c5c" stroke-width="1"/>
</svg>
</body></html>
